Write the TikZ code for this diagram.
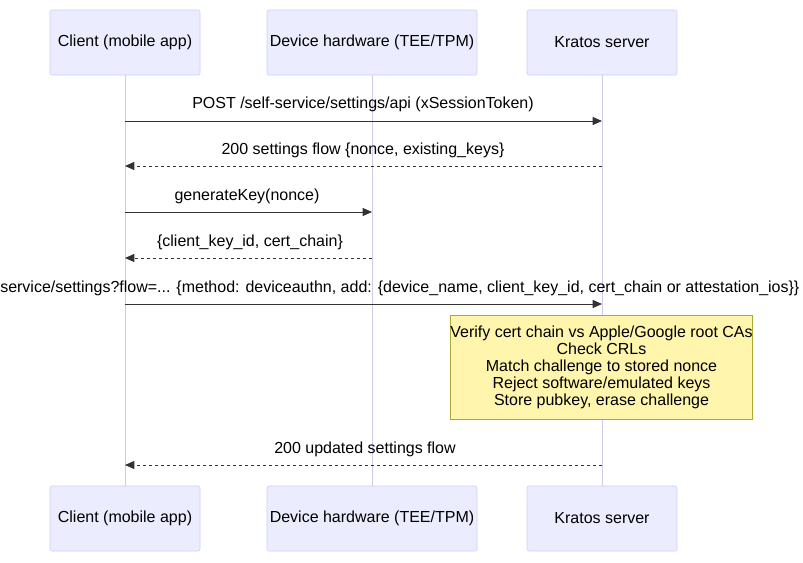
\documentclass[tikz,border=0pt]{standalone}
\usepackage{fontspec}
\setmainfont{Liberation Sans}
\usetikzlibrary{arrows.meta}
\definecolor{actfill}{HTML}{ECECFF}
\definecolor{actdraw}{HTML}{CCCCFF}
\definecolor{lifec}{HTML}{D0CCE8}
\definecolor{notefill}{HTML}{FFF5AD}
\definecolor{notedraw}{HTML}{AAAA33}
\definecolor{txt}{HTML}{333333}
\begin{document}
\begin{tikzpicture}[x=0.75pt,y=-0.75pt,
  actor/.style={draw=actdraw,fill=actfill,rounded corners=1.5pt,minimum width=112.5pt,minimum height=48.75pt,inner sep=0pt,font=\fontsize{12}{14}\selectfont},
  life/.style={draw=lifec,line width=0.75pt},
  msg/.style={draw=txt,line width=0.75pt,-{Triangle[length=7pt,width=6pt]}},
  rep/.style={msg,dash pattern=on 2.25pt off 2.25pt},
  lab/.style={font=\fontsize{12}{14}\selectfont,text=black,inner sep=0pt}]
\useasboundingbox (0,0) rectangle (803,562);
\node[actor] (c1) at (125,42.5) {Client (mobile app)};
\node[actor,minimum width=157.5pt] (d1) at (372,42.5) {Device hardware (TEE/TPM)};
\node[actor] (k1) at (602,42.5) {Kratos server};
\node[actor] (c2) at (125,518.5) {Client (mobile app)};
\node[actor,minimum width=157.5pt] (d2) at (372,518.5) {Device hardware (TEE/TPM)};
\node[actor] (k2) at (602,518.5) {Kratos server};
\draw[life] (c1.south) -- (c2.north);
\draw[life] (d1.south) -- (d2.north);
\draw[life] (k1.south) -- (k2.north);
\foreach \n/\y in {a/121,b/166,c/212,d/258,e/304,f/465}{
  \coordinate (c\n) at (125,\y); \coordinate (d\n) at (372,\y); \coordinate (k\n) at (602,\y);}
\draw[msg] (ca) -- (ka);
\node[lab] (l1) at (363,104) {POST /self-service/settings/api (xSessionToken)};
\draw[rep] (kb) -- (cb);
\node[lab] (l2) at (363,150) {200 settings flow \{nonce, existing\_keys\}};
\draw[msg] (cc) -- (dc);
\node[lab] (l3) at (247,196) {generateKey(nonce)};
\draw[rep] (dd) -- (cd);
\node[lab] (l4) at (250,242) {\{client\_key\_id, cert\_chain\}};
\draw[msg] (ce) -- (ke);
\node[lab,anchor=west] (l5) at (0,288) {\hbox to 0pt{\hss POST /self-}service/settings?flow=... \{method: deviceauthn, add: \{device\_name, client\_key\_id, cert\_chain or attestation\_ios\}\}};
\node[draw=notedraw,fill=notefill,minimum width=225.75pt,minimum height=78pt,inner sep=0pt,align=center,font=\fontsize{12}{12.75}\selectfont] (note) at (601.5,367)
 {Verify cert chain vs Apple/Google root CAs\\Check CRLs\\Match challenge to stored nonce\\Reject software/emulated keys\\Store pubkey, erase challenge};
\draw[rep] (kf) -- (cf);
\node[lab] (l6) at (365,449) {200 updated settings flow};
\end{tikzpicture}
\end{document}
